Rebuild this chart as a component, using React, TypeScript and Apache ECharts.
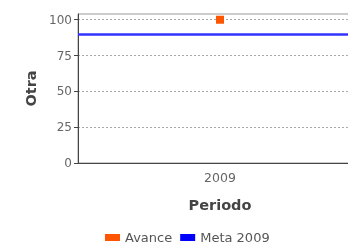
import React, { useEffect, useRef } from "react";
import * as echarts from "echarts";

const categories = ["2009"];
const avanceValues = [100];
const metaValue = 90;
const yTicks = [0, 25, 50, 75, 100];

export default function App() {
  const ref = useRef<HTMLDivElement>(null);
  useEffect(() => {
    const chart = echarts.init(ref.current!, undefined, { renderer: "svg" });
    const font = "DejaVu Sans";
    chart.setOption({
      animation: false,
      textStyle: { fontFamily: font },
      grid: {
        left: 78,
        top: 14,
        bottom: 81,
        right: 0,
        show: true,
        borderColor: "#999",
        borderWidth: 1,
      },
      legend: {
        bottom: 0,
        left: 105,
        padding: 0,
        itemWidth: 15,
        itemHeight: 7,
        itemGap: 8,
        icon: "rect",
        textStyle: { fontSize: 13, color: "#555", fontFamily: font },
        data: ["Avance", "Meta 2009"],
      },
      xAxis: {
        type: "category",
        data: categories,
        name: "Periodo",
        nameLocation: "middle",
        nameGap: 34,
        nameTextStyle: { fontSize: 14.5, fontWeight: "bold", color: "#444", fontFamily: font },
        axisLine: { lineStyle: { color: "#444" } },
        axisTick: { show: false },
        axisLabel: { fontSize: 12.5, color: "#666", margin: 8 },
      },
      yAxis: {
        type: "value",
        min: yTicks[0],
        max: 104,
        interval: 25,
        name: "Otra",
        nameLocation: "middle",
        nameGap: 39,
        nameTextStyle: { fontSize: 14.5, fontWeight: "bold", color: "#444", fontFamily: font },
        axisLine: { show: true, lineStyle: { color: "#444" } },
        axisTick: { show: true, length: 4, lineStyle: { color: "#444" } },
        axisLabel: { fontSize: 12, color: "#666", margin: 6, showMaxLabel: false },
        splitLine: { show: true, showMaxLine: false, lineStyle: { color: "#aaa", type: [2, 2] } },
      },
      series: [
        {
          name: "Avance",
          type: "line",
          data: avanceValues,
          symbol: "rect",
          symbolSize: 8,
          itemStyle: { color: "#ff5500" },
          lineStyle: { color: "#ff5500" },
          z: 5,
        },
        {
          name: "Meta 2009",
          type: "line",
          data: [],
          itemStyle: { color: "#0000ff" },
          lineStyle: { color: "#0000ff" },
          markLine: {
            silent: true,
            symbol: "none",
            label: { show: false },
            lineStyle: { color: "#3333ff", width: 2.5, type: "solid" },
            data: [{ yAxis: metaValue }],
          },
        },
      ],
    });
    return () => chart.dispose();
  }, []);
  return (
    <div style={{ position: "fixed", left: 0, top: 0, width: 348, height: 244, overflow: "hidden" }}>
      <div ref={ref} style={{ width: 362, height: 244 }} />
    </div>
  );
}
